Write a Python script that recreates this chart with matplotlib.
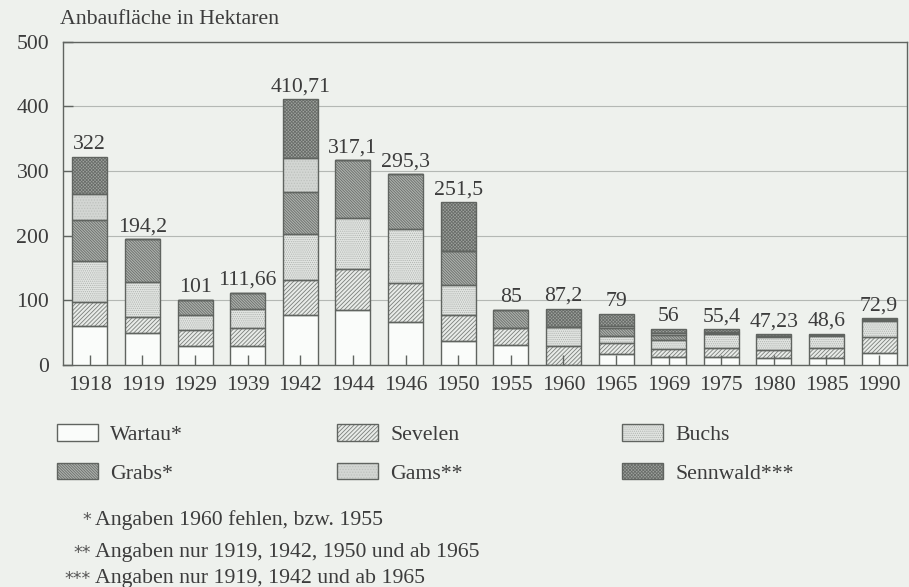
import matplotlib
matplotlib.use('Agg')
import matplotlib.pyplot as plt
import matplotlib.patches as mpatches
from matplotlib.legend_handler import HandlerTuple
import numpy as np

# values (hectares per district and year)
years = ['1918', '1919', '1929', '1939', '1942', '1944', '1946', '1950',
         '1955', '1960', '1965', '1969', '1975', '1980', '1985', '1990']
total_labels = ['322', '194,2', '101', '111,66', '410,71', '317,1', '295,3', '251,5',
                '85', '87,2', '79', '56', '55,4', '47,23', '48,6', '72,9']

wartau = [61, 50, 30, 30, 77, 85, 66, 37.6, 31, 0, 17, 12, 12, 11, 11, 18]
sevelen = [36, 25, 24, 27, 54, 63, 61, 39.2, 25.7, 29.8, 17, 12, 14, 12, 15, 25]
buchs = [64, 54, 24, 29, 71, 80, 84, 46.8, 0, 29.4, 11, 14, 22, 20, 18.6, 25]
grabs = [63, 65.2, 23, 25.66, 66, 89.1, 84.3, 52, 28.3, 0, 12, 9, 2, 1.5, 1.5, 1.5]
gams = [41, 0, 0, 0, 52, 0, 0, 0, 0, 0, 4, 3, 1.4, 0.73, 0.5, 1.4]
sennwald = [57, 0, 0, 0, 90.71, 0, 0, 75.9, 0, 28, 18, 6, 4, 2, 2, 2]

series_names = ['Wartau*', 'Sevelen', 'Buchs', 'Grabs*', 'Gams**', 'Sennwald***']
series_values = [wartau, sevelen, buchs, grabs, gams, sennwald]

# (facecolor, hatch, hatch colour)
styles = [
    ('#fafcfa', '', '#fafcfa'),
    ('#e8ebe8', '////////', '#7a7e7a'),
    ('#e2e5e2', '........', '#b0b4b0'),
    ('#aeb2ae', '\\\\\\\\\\\\\\\\\\\\\\\\', '#6a6e6a'),
    ('#d3d6d3', '......', '#bec2be'),
    ('#9ea29e', 'xxxxxxxxxx', '#6a6e6a'),
]

bg = '#eef1ed'
txt = '#3c3c3c'
edge = '#606460'
fs = 15.7

plt.rcParams['font.family'] = ['Liberation Serif', 'DejaVu Serif']
plt.rcParams['hatch.linewidth'] = 0.6

fig = plt.figure(figsize=(9.09, 5.87), dpi=100, facecolor=bg)
ax = fig.add_axes([63 / 909, 1 - 365 / 587, 844 / 909, (365 - 41.7) / 587])
ax.set_facecolor(bg)

x = np.arange(len(years))
width = 0.665
bottom = np.zeros(len(years))
handles = []
for name, vals, (fc, hatch, hc) in zip(series_names, series_values, styles):
    vals = np.array(vals, dtype=float)
    ax.bar(x, vals, width, bottom=bottom, color=fc, hatch=hatch,
           edgecolor=hc, linewidth=0, zorder=3)
    ax.bar(x, vals, width, bottom=bottom, fill=False, edgecolor=edge,
           linewidth=1.0, zorder=4)
    bottom += vals
    h1 = mpatches.Patch(facecolor=fc, hatch=hatch, edgecolor=hc, linewidth=0)
    h2 = mpatches.Patch(fill=False, edgecolor=edge, linewidth=1.0)
    handles.append((h1, h2))

for xi, top, lab in zip(x, bottom, total_labels):
    ax.annotate(lab, (xi, top), xytext=(0, 2), textcoords='offset points',
                ha='center', va='bottom', fontsize=fs, color=txt)

ax.set_xlim(-0.51, 15.53)
ax.set_ylim(0, 500)
ax.set_yticks([0, 100, 200, 300, 400, 500])
ax.set_xticks(x)
ax.set_xticklabels(years)
ax.tick_params(axis='both', direction='in', length=7.5, width=1.0,
               color=edge, labelsize=fs, labelcolor=txt)
ax.tick_params(axis='x', pad=8)
ax.tick_params(axis='y', pad=10)
ax.grid(axis='y', color='#b4b8b4', linewidth=0.8, zorder=0)
ax.xaxis.set_zorder(5)  # small x ticks show on top of the bars

for s in ax.spines.values():
    s.set_color(edge)
    s.set_linewidth(1.0)

fig.text(60 / 909, 1 - 19 / 587, 'Anbaufläche in Hektaren', fontsize=fs,
         color=txt, ha='left', va='center')

# legend: three columns of two rows
cols = [(0, 3), (1, 4), (2, 5)]
col_x = [57 / 909, 337 / 909, 622 / 909]
for (i, j), cx in zip(cols, col_x):
    leg = fig.legend([handles[i], handles[j]], [series_names[i], series_names[j]],
                     loc='upper left', bbox_to_anchor=(cx, 1 - 424 / 587),
                     frameon=False, borderpad=0, borderaxespad=0,
                     fontsize=fs, labelcolor=txt, handlelength=1.9,
                     handleheight=0.8, handletextpad=0.55, labelspacing=0.82,
                     handler_map={tuple: HandlerTuple(ndivide=1, pad=0)})

notes = [('*', 'Angaben 1960 fehlen, bzw. 1955', 520),
         ('**', 'Angaben nur 1919, 1942, 1950 und ab 1965', 553),
         ('***', 'Angaben nur 1919, 1942 und ab 1965', 579)]
for star, note, ypix in notes:
    fig.text(91 / 909, 1 - ypix / 587, star, fontsize=12.5, color='#555555',
             ha='right', va='center', family='DejaVu Sans')
    fig.text(95 / 909, 1 - ypix / 587, note, fontsize=fs, color=txt,
             ha='left', va='center')

fig.savefig('out.png', dpi=100, facecolor=bg)
